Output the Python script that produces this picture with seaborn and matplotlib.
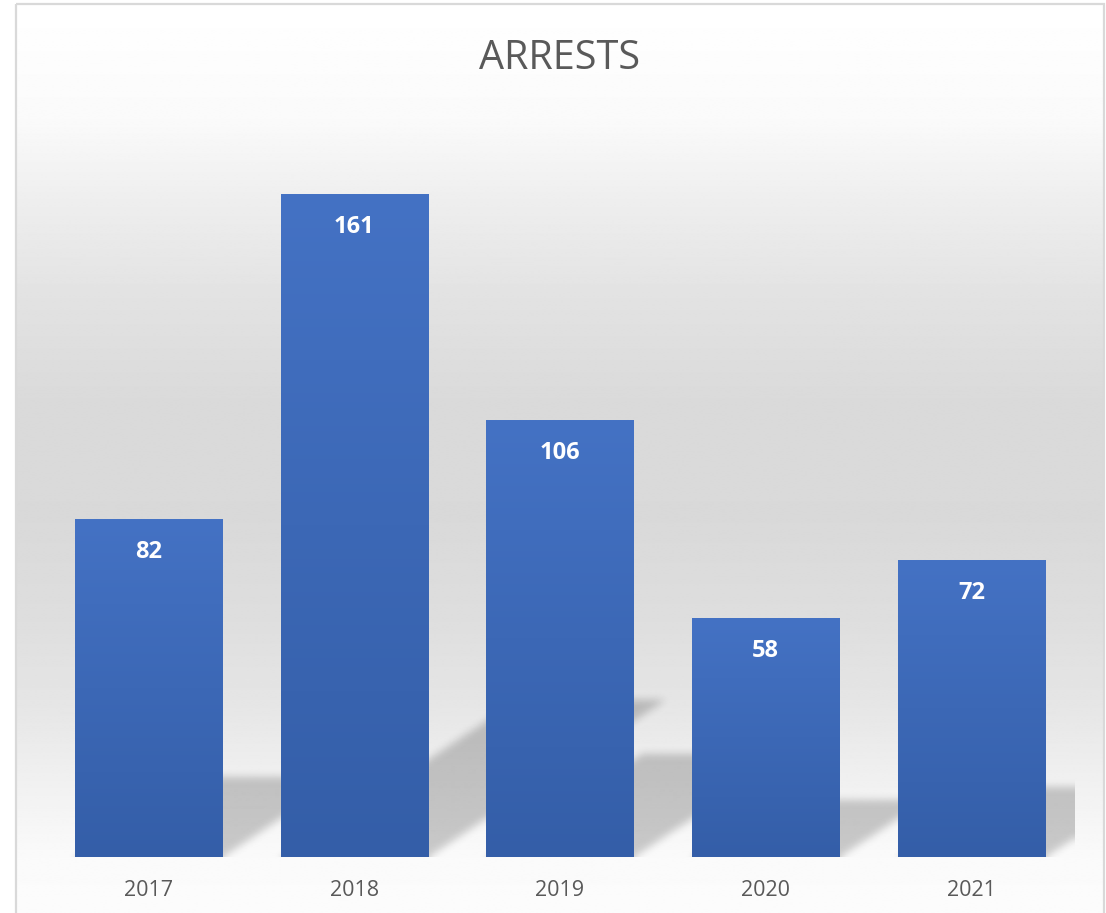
import numpy as np
import matplotlib
matplotlib.use("Agg")
import matplotlib.pyplot as plt
import seaborn as sns
from matplotlib.patches import Rectangle

# ---- data -------------------------------------------------------------
years = ["2017", "2018", "2019", "2020", "2021"]
arrests = [82, 161, 106, 58, 72]
chart_title = "ARRESTS"

# ---- style ------------------------------------------------------------
sns.set_theme(style="white")
plt.rcParams["font.family"] = ["Open Sans", "DejaVu Sans"]

W, H, DPI = 1106, 913, 100
TEXT_GRAY = "#595959"
BAR_TOP = np.array([68, 114, 196]) / 255
BAR_BOTTOM = np.array([52, 94, 168]) / 255
Y_MAX = 180

fig = plt.figure(figsize=(W / DPI, H / DPI), dpi=DPI, facecolor="white")

# chart-area background: soft vertical gray gradient inside a thin frame
bg = fig.add_axes([0, 0, 1, 1], zorder=0)
bg.set_xlim(0, W)
bg.set_ylim(H, 0)
bg.axis("off")
stop_y = [5, 120, 200, 300, 400, 520, 620, 700, 780, 857, 913]
stop_g = [255, 250, 238, 226, 218, 217, 222, 229, 240, 250, 252]
rows = np.linspace(5, H, 600)
shade = np.interp(rows, stop_y, stop_g) / 255
bg.imshow(np.repeat(shade[:, None], 2, axis=1), cmap="gray", vmin=0, vmax=1,
          extent=(16, 1103, H, 5), aspect="auto", interpolation="bilinear")
bg.add_patch(Rectangle((15.5, 4.5), 1088, 1000, fill=False,
                       edgecolor="#d9d9d9", lw=1.6))

# plot area
ax_left, ax_bottom, ax_w, ax_h = 45.6, 857.3, 1028.8, 740.5
ax = fig.add_axes([ax_left / W, (H - ax_bottom) / H, ax_w / W, ax_h / H], zorder=1)
ax.patch.set_alpha(0)

sns.barplot(x=years, y=arrests, width=0.7145, color=BAR_TOP, saturation=1,
            linewidth=0, edgecolor="none", ax=ax, zorder=2)

px_per_cat = ax_w / len(years)
px_per_val = ax_h / Y_MAX

# perspective shadows cast up and to the right of each bar
nx, ny = int(ax_w), int(ax_h)
gx = -0.5 + (np.arange(nx) + 0.5) / nx * len(years)
gy = (np.arange(ny) + 0.5) / ny * Y_MAX
X, Y = np.meshgrid(gx, gy)
mask = np.zeros_like(X)
bars = list(ax.patches)
for p in bars:
    x0, w, v = p.get_x(), p.get_width(), p.get_height()
    h_px = v * px_per_val
    dx = 0.358 * h_px / px_per_cat
    dy = 0.237 * v
    t = Y / dy
    inside = (Y >= 0) & (Y <= dy) & (X >= x0 + dx * t) & (X <= x0 + w + dx * t)
    mask[inside] = 1.0


def blur(a, sigma):
    r = int(3 * sigma)
    k = np.exp(-0.5 * (np.arange(-r, r + 1) / sigma) ** 2)
    k /= k.sum()
    a = np.pad(a, r, mode="edge")
    a = np.apply_along_axis(lambda m: np.convolve(m, k, mode="same"), 0, a)
    a = np.apply_along_axis(lambda m: np.convolve(m, k, mode="same"), 1, a)
    return a[r:-r, r:-r]


soft = blur(mask, 4.0)
rgba = np.zeros((ny, nx, 4))
rgba[..., 3] = 0.2 * soft
ax.imshow(rgba, origin="lower", extent=(-0.5, len(years) - 0.5, 0, Y_MAX),
          aspect="auto", interpolation="bilinear", zorder=1)

# vertical gradient fill for each bar, plus its value label
ramp = np.linspace(0, 1, 256)[:, None, None]
grad = BAR_TOP[None, None, :] * (1 - ramp) + BAR_BOTTOM[None, None, :] * ramp
for p in bars:
    x0, w, v = p.get_x(), p.get_width(), p.get_height()
    ax.imshow(grad, origin="upper", extent=(x0, x0 + w, 0, v),
              aspect="auto", interpolation="bilinear", zorder=3)
    ax.annotate(f"{v:g}", xy=(x0 + w / 2, v), xytext=(0, -38 * 72 / DPI),
                textcoords="offset points", ha="center", va="baseline",
                color="white", fontweight="bold", fontsize=17, zorder=4)

ax.set_xlim(-0.5, len(years) - 0.5)
ax.set_ylim(0, Y_MAX)
ax.set_yticks([])
ax.set_xlabel("")
ax.set_ylabel("")
ax.tick_params(axis="x", length=0, pad=16, labelsize=15.5, labelcolor=TEXT_GRAY)
for s in ax.spines.values():
    s.set_visible(False)

fig.text(560 / W, (H - 69) / H, chart_title, ha="center", va="baseline",
         fontsize=28.5, color=TEXT_GRAY)

fig.savefig("out.png", dpi=DPI, facecolor="white")
